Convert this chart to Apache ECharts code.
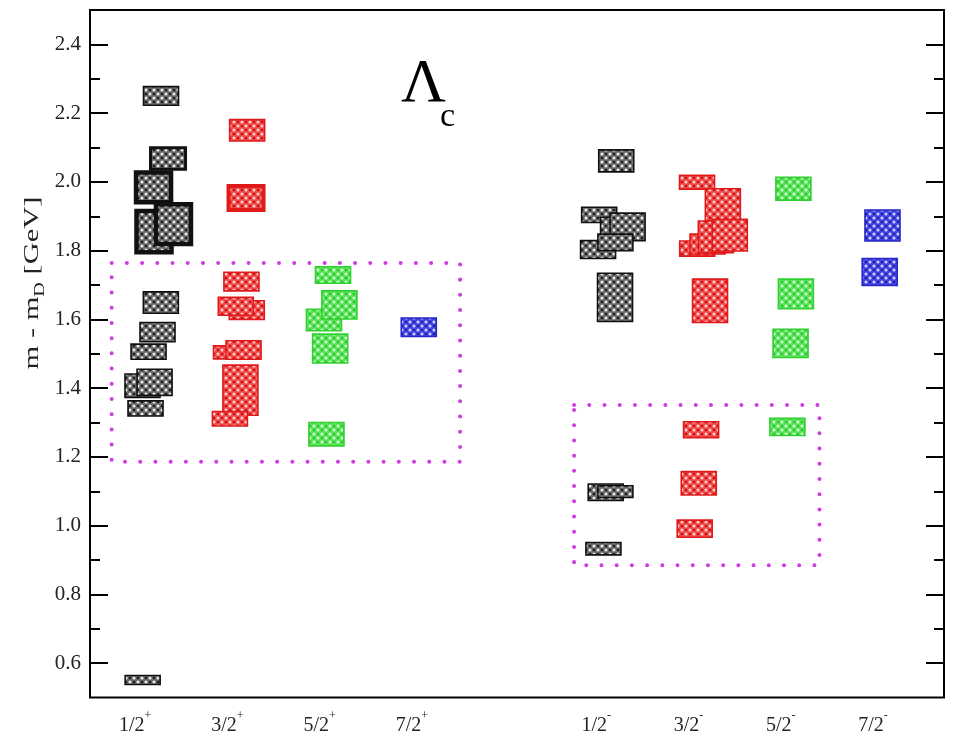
<!DOCTYPE html>
<html><head><meta charset="utf-8">
<script src="https://cdn.jsdelivr.net/npm/echarts@6/dist/echarts.min.js"></script>
<style>html,body{margin:0;padding:0;background:#fff}#c{width:955px;height:746px}</style>
</head><body><div id="c"></div>
<script>
// ---- axis ticks / labels ----
const xTickPos = [1, 2, 3, 4, 6, 7, 8, 9];
const xTickLabels = ['1/2+', '3/2+', '5/2+', '7/2+', '1/2-', '3/2-', '5/2-', '7/2-'];
const yMajorTicks = [0.6, 0.8, 1.0, 1.2, 1.4, 1.6, 1.8, 2.0, 2.2, 2.4];
const yMinorTicks = [0.7, 0.9, 1.1, 1.3, 1.5, 1.7, 1.9, 2.1, 2.3];

// ---- levels: position on J^P axis, mass m - m_D (GeV), half uncertainty (GeV) ----
// J = 1/2 (black)
const j12Pos  = [1.280, 1.356, 1.199, 1.204, 1.415, 1.278, 1.242, 1.145, 1.079, 1.210, 1.112, 1.081,
                 6.216, 6.031, 6.236, 6.339, 6.019, 6.207, 6.203, 6.102, 6.207, 6.077];
const j12Mass = [2.250, 2.068, 1.984, 1.855, 1.877, 1.649, 1.563, 1.506, 1.407, 1.417, 1.341, 0.551,
                 2.061, 1.904, 1.865, 1.869, 1.803, 1.824, 1.664, 1.097, 1.099, 0.933];
const j12Err  = [0.027, 0.031, 0.043, 0.060, 0.058, 0.031, 0.028, 0.022, 0.034, 0.038, 0.022, 0.013,
                 0.032, 0.022, 0.032, 0.040, 0.026, 0.024, 0.070, 0.024, 0.017, 0.018];
// J = 3/2 (red)
const j32Pos  = [2.214, 2.202, 2.152, 2.210, 2.091, 2.039, 2.175, 2.141, 2.027,
                 7.092, 7.372, 7.094, 7.206, 7.296, 7.447, 7.233, 7.136, 7.111, 7.067];
const j32Mass = [2.150, 1.953, 1.710, 1.627, 1.638, 1.504, 1.511, 1.394, 1.311,
                 1.999, 1.933, 1.806, 1.819, 1.840, 1.845, 1.654, 1.279, 1.123, 0.991];
const j32Err  = [0.031, 0.035, 0.027, 0.027, 0.026, 0.019, 0.027, 0.073, 0.021,
                 0.020, 0.047, 0.022, 0.029, 0.046, 0.046, 0.063, 0.023, 0.034, 0.025];
// J = 5/2 (green)
const j52Pos  = [3.145, 3.047, 3.214, 3.114, 3.074, 8.137, 8.164, 8.106, 8.072];
const j52Mass = [1.729, 1.598, 1.642, 1.515, 1.266, 1.980, 1.674, 1.530, 1.287];
const j52Err  = [0.024, 0.031, 0.041, 0.042, 0.034, 0.033, 0.043, 0.041, 0.025];
// J = 7/2 (blue)
const j72Pos  = [4.075, 9.103, 9.073];
const j72Mass = [1.577, 1.873, 1.738];
const j72Err  = [0.027, 0.045, 0.039];

// ---- dotted highlight regions (J^P axis from/to, mass from/to) ----
const regionX1 = [0.745, 5.759];
const regionX2 = [4.523, 8.420];
const regionY1 = [1.186, 0.885];
const regionY2 = [1.764, 1.351];

// ---- styling ----
const SERIF = '"Liberation Serif","DejaVu Serif",serif';
function makePattern(base, light, dark) {
  const c = document.createElement('canvas');
  c.width = 8; c.height = 8;
  const g = c.getContext('2d');
  g.fillStyle = base; g.fillRect(0, 0, 8, 8);
  g.fillStyle = light;
  [[2, 2], [6, 6]].forEach(function (p) { g.beginPath(); g.arc(p[0], p[1], 1.5, 0, Math.PI * 2); g.fill(); });
  g.fillStyle = dark;
  [[6, 2], [2, 6]].forEach(function (p) { g.beginPath(); g.arc(p[0], p[1], 1.3, 0, Math.PI * 2); g.fill(); });
  return { image: c, repeat: 'repeat' };
}
const palette = {
  j12: { stroke: '#111111', fill: makePattern('#6a6a6a', '#ececec', '#1c1c1c'), heavy: { 1: 3, 2: 4.5, 3: 4.5, 4: 4.5 } },
  j32: { stroke: '#e01a1a', fill: makePattern('#f04a4a', '#ffd0d0', '#cc1010'), heavy: { 1: 4 } },
  j52: { stroke: '#2fd02f', fill: makePattern('#55e455', '#d4ffd4', '#34c034'), heavy: {} },
  j72: { stroke: '#2626c8', fill: makePattern('#4444e4', '#d0d0ff', '#2020a8'), heavy: {} }
};
const BOX_W = 35;

function boxSeries(name, pos, mass, err, sty) {
  const data = pos.map(function (x, i) { return [x, mass[i] - err[i], mass[i] + err[i], i]; });
  return {
    type: 'custom', name: name, data: data, encode: { x: 0, y: [1, 2] },
    renderItem: function (params, api) {
      const x = api.value(0), lo = api.value(1), hi = api.value(2), idx = api.value(3);
      const pTop = api.coord([x, hi]);
      const pBot = api.coord([x, lo]);
      const lw = sty.heavy[idx] || 1.6;
      return {
        type: 'rect',
        shape: { x: pTop[0] - BOX_W / 2, y: pTop[1], width: BOX_W, height: pBot[1] - pTop[1] },
        style: { fill: sty.fill, stroke: sty.stroke, lineWidth: lw }
      };
    }
  };
}

const regionSeries = {
  type: 'custom', name: 'regions',
  data: regionX1.map(function (x, i) { return [x, regionX2[i], regionY1[i], regionY2[i]]; }),
  encode: { x: [0, 1], y: [2, 3] },
  renderItem: function (params, api) {
    const a = api.coord([api.value(0), api.value(3)]);
    const b = api.coord([api.value(1), api.value(2)]);
    return {
      type: 'rect', z2: 10,
      shape: { x: a[0], y: a[1], width: b[0] - a[0], height: b[1] - a[1] },
      style: { fill: 'none', stroke: '#cf3de2', lineWidth: 4, lineDash: [0.01, 15.2], lineCap: 'round' }
    };
  }
};

function tickAxis(position, values, len, showLabel) {
  return {
    type: 'value', min: 0.5, max: 2.5, position: position, offset: 0,
    axisLine: { show: false }, splitLine: { show: false },
    axisTick: { show: true, inside: true, length: len, customValues: values, lineStyle: { color: '#000', width: 2 } },
    axisLabel: showLabel ? {
      show: true, customValues: values, margin: 9,
      formatter: function (v) { return v.toFixed(1); },
      fontFamily: SERIF, fontSize: 21, color: '#222'
    } : { show: false }
  };
}

const chart = echarts.init(document.getElementById('c'), null, { renderer: 'canvas' });
chart.setOption({
  animation: false,
  backgroundColor: '#fff',
  grid: { left: 90, right: 11, top: 10, bottom: 48.5, show: true, borderColor: '#000', borderWidth: 2, backgroundColor: 'transparent' },
  xAxis: {
    type: 'value', min: 0.51, max: 9.77,
    axisLine: { show: false }, axisTick: { show: false }, splitLine: { show: false },
    axisLabel: {
      customValues: xTickPos, margin: 12,
      formatter: function (v) {
        const i = xTickPos.indexOf(Math.round(v));
        if (i < 0) return '';
        const s = xTickLabels[i];
        return '{a|' + s.slice(0, -1) + '}{s|' + s.slice(-1) + '}';
      },
      rich: {
        a: { fontFamily: SERIF, fontSize: 20, color: '#222', lineHeight: 26, verticalAlign: 'bottom' },
        s: { fontFamily: SERIF, fontSize: 12, color: '#222', lineHeight: 26, verticalAlign: 'top' }
      }
    }
  },
  yAxis: [
    tickAxis('left', yMajorTicks, 18, true),
    tickAxis('left', yMinorTicks, 10, false),
    tickAxis('right', yMajorTicks, 18, false),
    tickAxis('right', yMinorTicks, 10, false)
  ],
  series: [
    boxSeries('J=1/2', j12Pos, j12Mass, j12Err, palette.j12),
    boxSeries('J=3/2', j32Pos, j32Mass, j32Err, palette.j32),
    boxSeries('J=5/2', j52Pos, j52Mass, j52Err, palette.j52),
    boxSeries('J=7/2', j72Pos, j72Mass, j72Err, palette.j72),
    regionSeries
  ],
  graphic: [
    { type: 'text', x: 401, y: 85, style: { text: 'Λ', font: '62px ' + SERIF, fill: '#000', textAlign: 'left', textVerticalAlign: 'middle' } },
    { type: 'text', x: 440, y: 117, style: { text: 'c', font: '34px ' + SERIF, fill: '#000', textAlign: 'left', textVerticalAlign: 'middle' } },
    { type: 'text', x: 32, y: 283, rotation: Math.PI / 2, scaleX: 1.45,
      style: {
        text: '{a|m - m}{b|D}{a| [GeV]}', textAlign: 'center', textVerticalAlign: 'middle',
        rich: {
          a: { fontFamily: SERIF, fontSize: 21, fill: '#222', lineHeight: 30, verticalAlign: 'middle' },
          b: { fontFamily: SERIF, fontSize: 14, fill: '#222', lineHeight: 30, verticalAlign: 'bottom' }
        }
      } }
  ]
});
</script>
</body></html>
